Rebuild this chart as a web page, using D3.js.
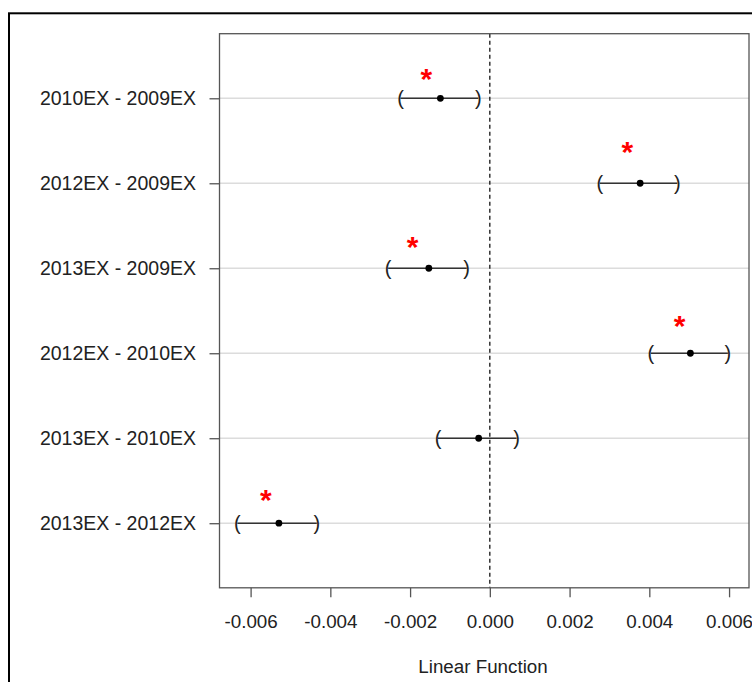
<!DOCTYPE html>
<html>
<head>
<meta charset="utf-8">
<script src="https://cdn.jsdelivr.net/npm/d3@7"></script>
<style>
  body { margin: 0; background: #fff; }
  text { font-family: "Liberation Sans", Arial, sans-serif; }
</style>
</head>
<body>
<svg id="chart"></svg>
<script>
// comparisons, top to bottom
let contrasts = ["2010EX - 2009EX", "2012EX - 2009EX", "2013EX - 2009EX",
                 "2012EX - 2010EX", "2013EX - 2010EX", "2013EX - 2012EX"];
let estimates = [-0.00124, 0.00377, -0.00153, 0.00503, -0.00028, -0.00529];
let lowers    = [-0.00224, 0.00276, -0.00255, 0.00404, -0.00130, -0.00633];
let uppers    = [-0.00029, 0.00470, -0.00058, 0.00597, 0.00067, -0.00434];
let significant = [true, true, true, true, false, true];
// where the red star sits: x in data units, y lift in rows
let starX    = [-0.00159, 0.00345, -0.00194, 0.00476, null, -0.00562];
let starLift = [0.26, 0.40, 0.29, 0.35, null, 0.31];

let xTicks = [-0.006, -0.004, -0.002, 0.000, 0.002, 0.004, 0.006];
let xDomain = [-0.00678, 0.00650];
let xTitle = "Linear Function";

let width = 752;
let height = 682;
let plotLeft = 219.5, plotRight = 749, plotTop = 33.7, plotBottom = 587.8;

let svg = d3.select("#chart").attr("width", width).attr("height", height);

// outer frame (runs past the right and bottom edges)
svg.append("rect")
    .attr("x", 9).attr("y", 13.3)
    .attr("width", 760).attr("height", 700)
    .attr("fill", "none").attr("stroke", "#000").attr("stroke-width", 2);

let xScale = d3.scaleLinear().domain(xDomain).range([plotLeft, plotRight]);
let yScale = d3.scalePoint().domain(contrasts).range([plotTop, plotBottom]).padding(0.76);

let rows = contrasts.map((c, i) => ({
    name: c, est: estimates[i], lo: lowers[i], hi: uppers[i],
    sig: significant[i], sx: starX[i], lift: starLift[i]
}));

// gridlines
svg.append("g").selectAll("line")
    .data(contrasts).enter().append("line")
    .attr("x1", plotLeft).attr("x2", plotRight)
    .attr("y1", d => yScale(d)).attr("y2", d => yScale(d))
    .attr("stroke", "#dcdcdc").attr("stroke-width", 1.5);

// zero line
svg.append("line")
    .attr("x1", xScale(0)).attr("x2", xScale(0))
    .attr("y1", plotTop).attr("y2", plotBottom)
    .attr("stroke", "#000").attr("stroke-width", 1.2)
    .attr("stroke-dasharray", "4,3");

// axes
let xAxis = d3.axisBottom(xScale).tickValues(xTicks)
    .tickSize(9.5).tickPadding(17.5).tickSizeOuter(0)
    .tickFormat(d => d3.format(".3f")(d).replace("−", "-"));
let gx = svg.append("g")
    .attr("transform", "translate(0," + plotBottom + ")")
    .call(xAxis);
gx.select(".domain").remove();
gx.selectAll(".tick line").attr("stroke", "#555").attr("stroke-width", 1.3);
gx.selectAll(".tick text")
    .attr("fill", "#222").style("font-size", "18.8px");

let yAxis = d3.axisLeft(yScale).tickSize(10).tickPadding(13.5);
let gy = svg.append("g")
    .attr("transform", "translate(" + plotLeft + ",0)")
    .call(yAxis);
gy.select(".domain").remove();
gy.selectAll(".tick line").attr("stroke", "#555").attr("stroke-width", 1.3);
gy.selectAll(".tick text").attr("fill", "#222").style("font-size", "19.5px");

// plot box
svg.append("rect")
    .attr("x", plotLeft).attr("y", plotTop)
    .attr("width", plotRight - plotLeft).attr("height", plotBottom - plotTop)
    .attr("fill", "none").attr("stroke", "#555").attr("stroke-width", 1.3);

// x title
svg.append("text")
    .attr("x", 483).attr("y", 672.5)
    .attr("text-anchor", "middle")
    .style("font-size", "18.8px").attr("fill", "#222")
    .text(xTitle);

// intervals
let g = svg.append("g");
g.selectAll(".ci").data(rows).enter().append("line")
    .attr("class", "ci")
    .attr("x1", d => xScale(d.lo)).attr("x2", d => xScale(d.hi))
    .attr("y1", d => yScale(d.name)).attr("y2", d => yScale(d.name))
    .attr("stroke", "#333").attr("stroke-width", 1.5);

g.selectAll(".lb").data(rows).enter().append("text")
    .attr("class", "lb")
    .attr("x", d => xScale(d.lo)).attr("y", d => yScale(d.name) + 7)
    .attr("text-anchor", "middle")
    .style("font-size", "20px").attr("fill", "#222")
    .text("(");

g.selectAll(".rb").data(rows).enter().append("text")
    .attr("class", "rb")
    .attr("x", d => xScale(d.hi)).attr("y", d => yScale(d.name) + 7)
    .attr("text-anchor", "middle")
    .style("font-size", "20px").attr("fill", "#222")
    .text(")");

g.selectAll(".pt").data(rows).enter().append("circle")
    .attr("class", "pt")
    .attr("cx", d => xScale(d.est)).attr("cy", d => yScale(d.name))
    .attr("r", 3.4).attr("fill", "#000");

// significance stars
g.selectAll(".star").data(rows.filter(d => d.sig)).enter().append("text")
    .attr("class", "star")
    .attr("x", d => xScale(d.sx))
    .attr("y", d => yScale(d.name) - d.lift * yScale.step() + 13)
    .attr("text-anchor", "middle")
    .style("font-size", "30px").style("font-weight", "bold")
    .attr("fill", "#ff0000")
    .text("*");
</script>
</body>
</html>
